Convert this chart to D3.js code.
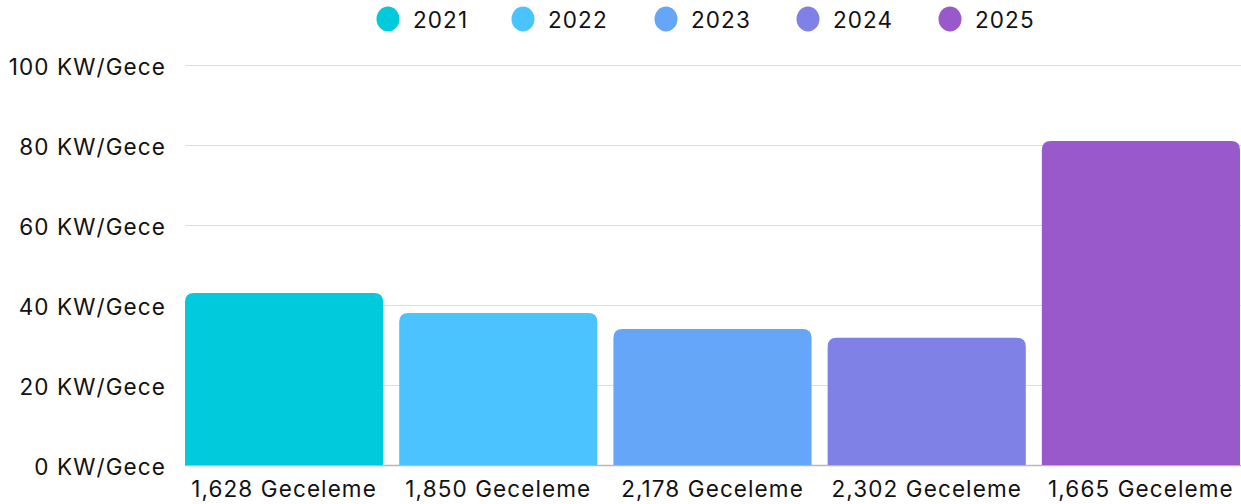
<!DOCTYPE html>
<html><head><meta charset="utf-8">
<script src="https://cdn.jsdelivr.net/npm/d3@7"></script>
<style>body{margin:0;background:#fff}svg{display:block}text{font-family:Inter,"Open Sans",sans-serif;font-weight:400;letter-spacing:1.1px}</style>
</head><body><svg id="c" width="1241" height="504"></svg>
<script>
const categories = ["1,628 Geceleme","1,850 Geceleme","2,178 Geceleme","2,302 Geceleme","1,665 Geceleme"];
const years = ["2021","2022","2023","2024","2025"];
const values = [43, 38, 34, 31.8, 81];
const colors = ["#00CADC","#4AC3FF","#66A6F8","#7F81E6","#9A59CB"];
const yTicks = [0,20,40,60,80,100];
const yUnit = " KW/Gece";

const svg = d3.select("#c");
const m = {l:185, r:1, t:65, b:39};
const W = 1241, H = 504;
const x = d3.scaleBand().domain(categories).range([m.l, W-m.r]).paddingInner(0.075).paddingOuter(0);
const y = d3.scaleLinear().domain([0,100]).range([H-m.b, m.t]);

svg.append("g").selectAll("line").data(yTicks.filter(d=>d>0)).join("line")
  .attr("x1", m.l).attr("x2", W).attr("y1", d=>y(d)+0.5).attr("y2", d=>y(d)+0.5)
  .attr("stroke","#dcdcdc").attr("stroke-width",1);
svg.append("line").attr("x1",m.l).attr("x2",W).attr("y1",y(0)+0.5).attr("y2",y(0)+0.5)
  .attr("stroke","#b8b8b8").attr("stroke-width",1.5);

svg.append("g").selectAll("text").data(yTicks).join("text")
  .attr("x",166).attr("y",d=>y(d)+2).attr("dy","0.35em").attr("text-anchor","end")
  .attr("font-size",22.5).attr("fill","#111").text(d=>d+yUnit);

const r = 9;
function barPath(x0,w,yt,yb){
  const rr = Math.min(r, (yb-yt), w/2);
  return `M${x0},${yb}V${yt+rr}Q${x0},${yt} ${x0+rr},${yt}H${x0+w-rr}Q${x0+w},${yt} ${x0+w},${yt+rr}V${yb}Z`;
}
svg.append("g").selectAll("path").data(values).join("path")
  .attr("d",(d,i)=>barPath(x(categories[i]), x.bandwidth(), y(d), y(0)))
  .attr("fill",(d,i)=>colors[i]);

svg.append("g").selectAll("text").data(categories).join("text")
  .attr("x",d=>x(d)+x.bandwidth()/2).attr("y",489).attr("dy","0.35em").attr("text-anchor","middle")
  .attr("font-size",22.5).attr("fill","#111").text(d=>d);

const lx = [388,523,666,808,950];
const lg = svg.append("g").selectAll("g").data(years).join("g")
  .attr("transform",(d,i)=>`translate(${lx[i]},19)`);
lg.append("ellipse").attr("rx",11.5).attr("ry",12.5).attr("fill",(d,i)=>colors[i]);
lg.append("text").attr("x",25).attr("y",1).attr("dy","0.35em").attr("font-size",22.5).attr("fill","#111").text(d=>d);
</script></body></html>
